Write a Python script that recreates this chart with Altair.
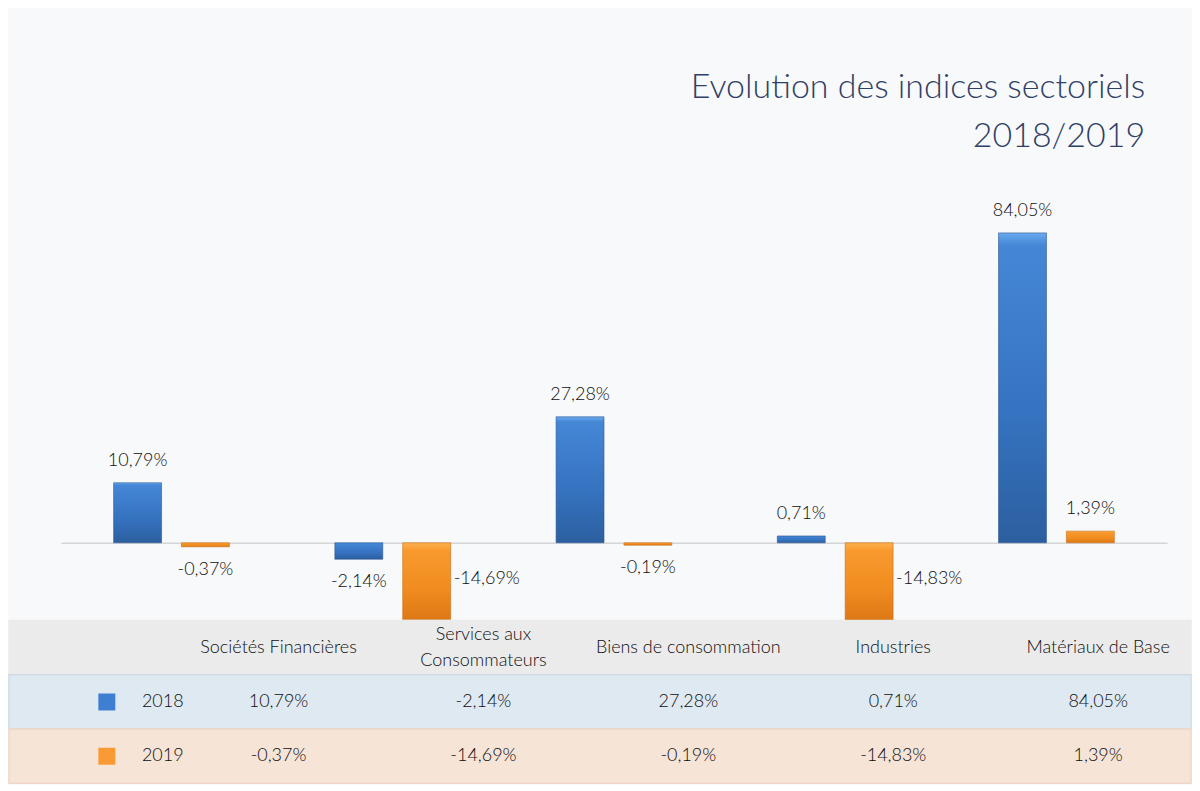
import altair as alt
import pandas as pd

categories = ["Sociétés Financières", "Services aux Consommateurs",
              "Biens de consommation", "Industries", "Matériaux de Base"]
header_labels = ["Sociétés Financières", "Services aux\nConsommateurs",
                 "Biens de consommation", "Industries", "Matériaux de Base"]
years = ["2018", "2019"]
values_2018 = [10.79, -2.14, 27.28, 0.71, 84.05]
values_2019 = [-0.37, -14.69, -0.19, -14.83, 1.39]
title_lines = ["Evolution des indices sectoriels", "2018/2019"]

FONT = "Lato"
TXT = "#0e0e0e"
FW = 300


def fr(v):
    return f"{v:.2f}".replace(".", ",") + "%"


recs = []
for c, a, b in zip(categories, values_2018, values_2019):
    recs.append({"cat": c, "year": "2018", "value": a, "label": fr(a)})
    recs.append({"cat": c, "year": "2019", "value": b, "label": fr(b)})
bars_df = pd.DataFrame(recs)

tab = [{"cat": c, "row": "header", "text": h} for c, h in zip(categories, header_labels)]
tab += [{"cat": r["cat"], "row": r["year"], "text": r["label"]} for r in recs]
table_df = pd.DataFrame(tab)

row_domain = ["header"] + years
rows_df = pd.DataFrame({"row": row_domain})
legend_df = pd.DataFrame({"row": years * 2, "col": ["swatch"] * 2 + ["year"] * 2, "text": years * 2})

W = 1184
H1 = 450
H2 = 163
ZERO_FROM_BOTTOM = 78  # zero line sits this far above the panel bottom

# ---------------- top panel: bars ----------------
x_axis = alt.Axis(domain=True, domainColor="#d3d5d7", domainWidth=1.3, ticks=False,
                  labels=False, title=None, grid=False, offset=-ZERO_FROM_BOTTOM)
x_enc = alt.X("cat:N", sort=categories, axis=x_axis,
              scale=alt.Scale(domain=categories, range=[52, 1160], paddingInner=0, paddingOuter=0))
xo_enc = alt.XOffset("year:N", scale=alt.Scale(domain=years, paddingInner=0.294, paddingOuter=0.777))
y_enc = alt.Y("value:Q", axis=None,
              scale=alt.Scale(type="pow", exponent=0.8, domain=[-14.95, 105.4], nice=False, zero=False))

blue_grad = alt.Gradient(gradient="linear", x1=0, y1=0, x2=0, y2=1, stops=[
    alt.GradientStop(color="#6aaaf0", offset=0),
    alt.GradientStop(color="#4587d6", offset=0.04),
    alt.GradientStop(color="#3572bf", offset=0.6),
    alt.GradientStop(color="#2c5f9f", offset=1)])
orange_grad = alt.Gradient(gradient="linear", x1=0, y1=0, x2=0, y2=1, stops=[
    alt.GradientStop(color="#fbb150", offset=0),
    alt.GradientStop(color="#f99a2e", offset=0.1),
    alt.GradientStop(color="#f08c20", offset=0.6),
    alt.GradientStop(color="#dd7815", offset=1)])

base = alt.Chart(bars_df)

bar18 = base.transform_filter("datum.year == '2018'").mark_bar(
    fill=blue_grad, stroke="#2a5590", strokeWidth=0.6).encode(
    x=x_enc, xOffset=xo_enc, y=y_enc, y2=alt.datum(0))
bar19 = base.transform_filter("datum.year == '2019'").mark_bar(
    fill=orange_grad, stroke="#c96c12", strokeWidth=0.6).encode(
    x=x_enc, xOffset=xo_enc, y=y_enc, y2=alt.datum(0))

txt = dict(font=FONT, fontSize=18, fontWeight=FW, color=TXT)
lab_pos = base.transform_filter("datum.value >= 0").mark_text(
    baseline="bottom", dy=-13, **txt).encode(
    x=x_enc, xOffset=xo_enc, y=y_enc, text="label:N")
lab_neg = base.transform_filter("datum.value < 0 && datum.value > -10").mark_text(
    baseline="top", dy=14, **txt).encode(
    x=x_enc, xOffset=xo_enc, y=y_enc, text="label:N")
lab_big = base.transform_filter("datum.value <= -10").mark_text(
    baseline="middle", align="left", dx=27, dy=-41, **txt).encode(
    x=x_enc, xOffset=xo_enc, y=y_enc, text="label:N")

top = alt.layer(bar18, bar19, lab_pos, lab_neg, lab_big).properties(
    width=W, height=H1,
    title=alt.TitleParams(text=title_lines, anchor="end", font=FONT, fontSize=34,
                          fontWeight=FW, color="#2f4066", lineHeight=50,
                          offset=17, dx=-46))

# ---------------- bottom panel: data table ----------------
y_tab = alt.Y("row:N", axis=None,
              scale=alt.Scale(domain=row_domain, paddingInner=0, paddingOuter=0))

bg = alt.Chart(rows_df).mark_rect(strokeWidth=1.5).encode(
    y=y_tab,
    color=alt.Color("row:N", legend=None,
                    scale=alt.Scale(domain=row_domain, range=["#ebebeb", "#dfe9f2", "#f6e4d7"])),
    stroke=alt.Stroke("row:N", legend=None,
                      scale=alt.Scale(domain=row_domain, range=["#ebebeb", "#cfdbe8", "#efd6c8"])))

x_leg = alt.X("col:N", axis=None,
              scale=alt.Scale(type="point", domain=["swatch", "year"], range=[98, 154], padding=0))
swatch = alt.Chart(legend_df).transform_filter("datum.col == 'swatch'").mark_square(
    size=289, filled=True, opacity=1).encode(
    x=x_leg, y=y_tab,
    color=alt.Color("row:N", legend=None,
                    scale=alt.Scale(domain=years, range=["#3f7fd1", "#fa9a34"])))
year_txt = alt.Chart(legend_df).transform_filter("datum.col == 'year'").mark_text(
    **txt).encode(x=x_leg, y=y_tab, text="text:N")

x_tab = alt.X("cat:N", axis=None,
              scale=alt.Scale(type="point", domain=categories, range=[270, 1091], padding=0))
cells_one = alt.Chart(table_df).transform_filter("indexof(datum.text, '\\n') < 0").mark_text(
    **txt).encode(x=x_tab, y=y_tab, text="text:N")
cells_two = alt.Chart(table_df).transform_filter("indexof(datum.text, '\\n') >= 0").mark_text(
    lineBreak="\n", lineHeight=26, dy=-13, **txt).encode(x=x_tab, y=y_tab, text="text:N")

bottom = alt.layer(bg, swatch, year_txt, cells_one, cells_two).resolve_scale(
    x="independent", color="independent", stroke="independent").properties(width=W, height=H2)

chart = alt.vconcat(top, bottom, spacing=0, bounds="flush").properties(
    padding={"top": 62, "left": 0, "right": 0, "bottom": 0},
    background="#f8f9fa").configure_view(stroke=None)

chart.save("out.html", embed_options={"renderer": "svg", "actions": False})
